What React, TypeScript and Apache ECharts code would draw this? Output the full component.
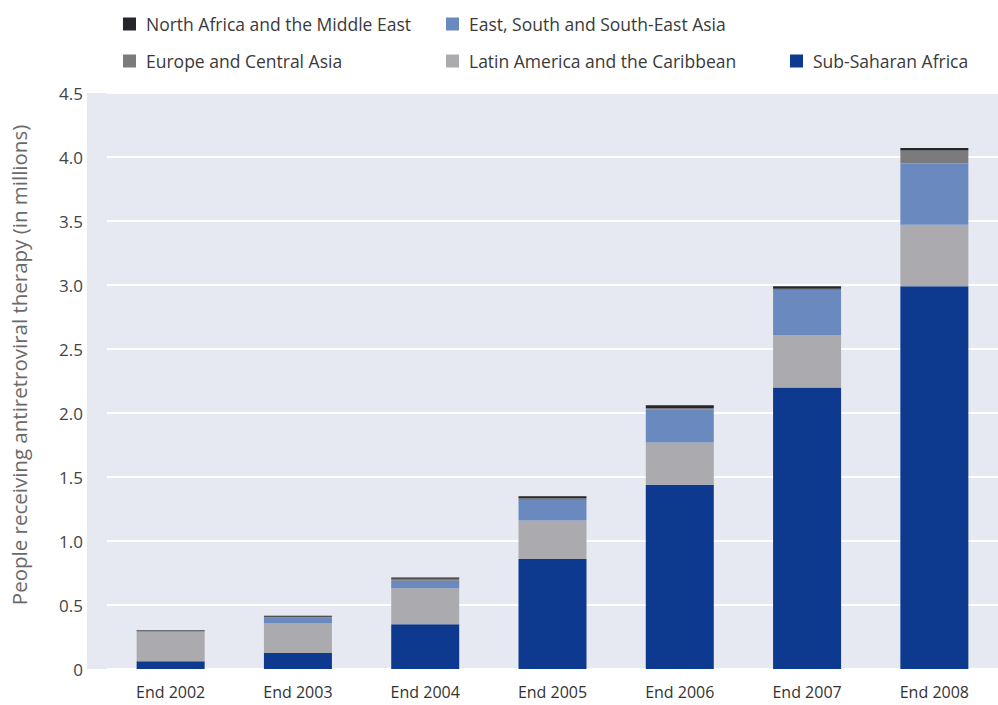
import React, { useEffect, useRef } from "react";
import * as echarts from "echarts";

const categories = ["End 2002", "End 2003", "End 2004", "End 2005", "End 2006", "End 2007", "End 2008"];
const subSaharan = [0.06, 0.125, 0.35, 0.86, 1.44, 2.2, 2.99];
const latinAmerica = [0.23, 0.235, 0.28, 0.3, 0.33, 0.41, 0.48];
const eastAsia = [0.005, 0.04, 0.06, 0.16, 0.26, 0.35, 0.48];
const europe = [0.005, 0.008, 0.015, 0.015, 0.01, 0.01, 0.1];
const northAfrica = [0.005, 0.008, 0.01, 0.015, 0.02, 0.02, 0.02];

const seriesDefs = [
  { name: "Sub-Saharan Africa", data: subSaharan, color: "#0d3a8e" },
  { name: "Latin America and the Caribbean", data: latinAmerica, color: "#abaaae" },
  { name: "East, South and South-East Asia", data: eastAsia, color: "#6a89bf" },
  { name: "Europe and Central Asia", data: europe, color: "#7b7b7e" },
  { name: "North Africa and the Middle East", data: northAfrica, color: "#26262a" },
];

const legendPos: Record<string, { left: number; top: number }> = {
  "North Africa and the Middle East": { left: 118, top: 9 },
  "East, South and South-East Asia": { left: 441, top: 9 },
  "Europe and Central Asia": { left: 118, top: 46 },
  "Latin America and the Caribbean": { left: 441, top: 46 },
  "Sub-Saharan Africa": { left: 785, top: 46 },
};

const legendFont = "'Open Sans', 'Noto Sans', sans-serif";
const axisFont = "'Open Sans', 'Noto Sans', sans-serif";

export default function App() {
  const ref = useRef<HTMLDivElement>(null);
  useEffect(() => {
    document.body.style.margin = "0";
    const chart = echarts.init(ref.current!, null, { renderer: "svg" });
    const legends = seriesDefs.map((s) => ({
      data: [s.name],
      left: legendPos[s.name].left,
      top: legendPos[s.name].top,
      itemWidth: 13,
      itemHeight: 13,
      icon: "rect",
      selectedMode: false,
      textStyle: {
        fontFamily: legendFont,
        fontSize: 17.5,
        color: "#3a3a3a",
        lineHeight: 20,
        padding: [0, 0, 0, 5],
      },
    }));
    chart.setOption({
      animation: false,
      backgroundColor: "#ffffff",
      legend: legends,
      graphic: [
        {
          type: "rect",
          z: -10,
          silent: true,
          shape: { x: 87, y: 93, width: 911, height: 576 },
          style: { fill: "#e7e9f2" },
        },
      ],
      grid: { left: 105, right: -7, top: 93, bottom: 36, containLabel: false },
      xAxis: {
        type: "category",
        data: categories,
        axisLine: { show: false },
        axisTick: { show: false },
        axisLabel: { fontFamily: axisFont, fontSize: 16, color: "#333", margin: 15 },
      },
      yAxis: {
        type: "value",
        min: 0,
        max: 4.5,
        interval: 0.5,
        name: "People receiving antiretroviral therapy (in millions)",
        nameLocation: "middle",
        nameGap: 78,
        nameRotate: 90,
        nameTextStyle: { fontFamily: axisFont, fontSize: 20.5, color: "#6a6a6a", padding: [0, 0, 0, 32] },
        axisLine: { show: false },
        axisTick: { show: false },
        axisLabel: {
          fontFamily: axisFont,
          fontSize: 17,
          color: "#444",
          margin: 24,
          formatter: (v: number) => (v === 0 ? "0" : v.toFixed(1)),
        },
        splitLine: { lineStyle: { color: "#ffffff", width: 2 } },
      },
      series: seriesDefs.map((s) => ({
        name: s.name,
        type: "bar",
        stack: "total",
        barWidth: 68,
        data: s.data,
        itemStyle: { color: s.color },
      })),
    });
    return () => chart.dispose();
  }, []);
  return <div ref={ref} style={{ width: 998, height: 705 }} />;
}
